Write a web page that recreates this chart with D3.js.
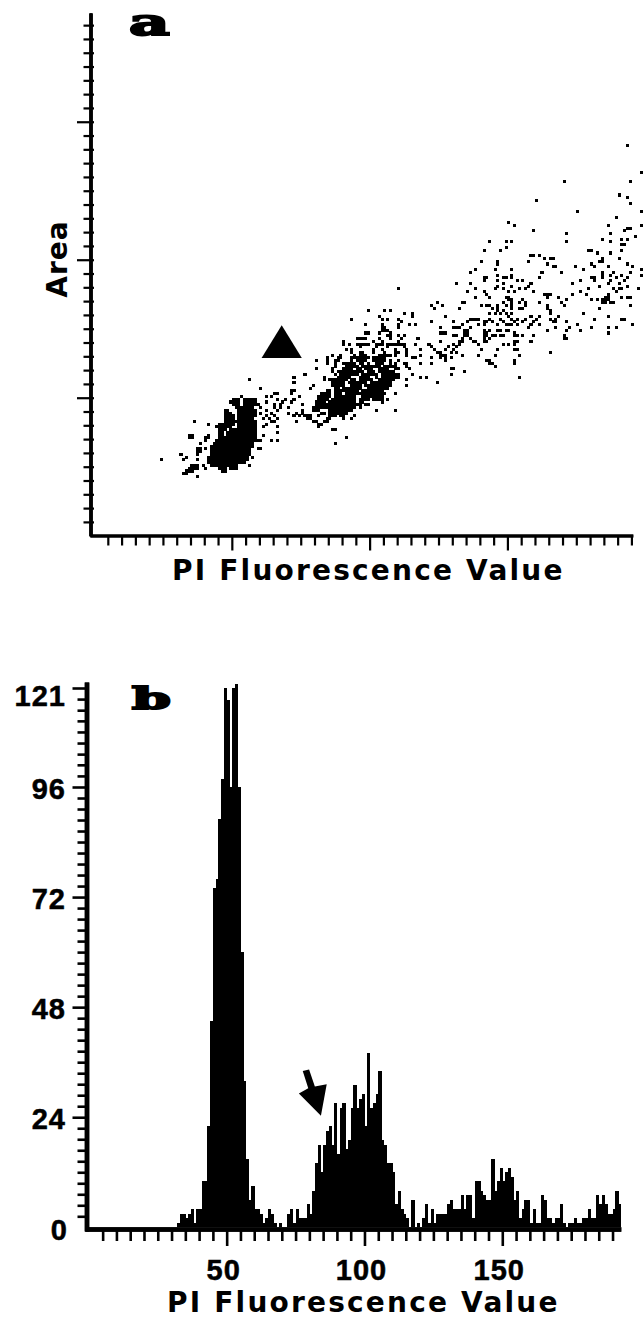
<!DOCTYPE html>
<html>
<head>
<meta charset="utf-8">
<style>
  html, body { margin: 0; padding: 0; background: #fff; }
  svg { display: block; }
  text { fill: #000; }
  .axis path, .axis line { stroke: #000; }
  .label { font-family: 'Liberation Sans', Arial, sans-serif; font-weight: 700; font-size: 29px; stroke: #000; stroke-width: 0.5px; }
  .title { font-family: 'DejaVu Sans', sans-serif; font-weight: 700; font-size: 28px; }
  .panel { font-family: 'DejaVu Serif', serif; font-weight: 700; stroke: #000; stroke-width: 2px; }
</style>
</head>
<body>
<div id="chart"></div>
<script src="https://cdn.jsdelivr.net/npm/d3@7"></script>
<script>
// panel a: sparse dots, one row per Area channel: [area, [PI channels]]
const sparseRows = [
  [142, [193]], [132, [198]], [129, [170, 194]], [124, [190]], [123, [193]], [122, [160]], [121, [194]],
  [118, [175, 198]], [116, [189]], [114, [150]], [113, [152, 186, 198]], [112, [193, 194]],
  [111, [159, 192]], [110, [171, 187]], [109, [196]], [108, [184, 191, 193]],
  [107, [143, 149, 151, 171, 187]], [106, [191, 192]], [105, [149]], [104, [141, 147, 179, 180, 191]],
  [103, [182, 187]], [102, [158, 159, 161]], [101, [163, 165, 166, 184, 190]],
  [100, [140, 146, 157, 183, 184]], [99, [146, 164, 180, 193]],
  [98, [166, 167, 174, 181, 186, 195]], [97, [138, 145, 151, 177, 198]],
  [96, [136, 162, 169, 184, 188, 194]], [95, [146, 151, 184, 187, 191, 198]],
  [94, [141, 142, 148, 149, 151, 161, 180, 181, 184, 189, 193]],
  [93, [141, 146, 153, 155, 176, 181, 187, 192]], [92, [131, 136, 148, 158, 173, 186, 190]],
  [91, [146, 151, 157, 183, 193]], [90, [110, 138, 145, 148, 154, 156, 179, 188, 190, 191, 197]],
  [89, [135, 141, 150, 152, 159, 176, 189]], [88, [142, 163, 164, 165, 173, 178, 186]],
  [87, [138, 143, 149, 150, 164, 168, 185, 186, 191, 193, 194]],
  [86, [150, 151, 155, 171, 180, 182, 184, 185, 186]],
  [85, [124, 133, 134, 148, 151, 154, 156, 161, 169, 184, 185, 187, 188]],
  [84, [122, 126, 140, 142, 143, 146, 149, 151, 156, 164, 170, 194]],
  [83, [123, 132, 144, 146, 151, 154, 155, 164, 183]],
  [82, [146, 148, 165]], [81, [143, 145, 147, 149, 151, 165, 177]],
  [80, [127, 150, 158, 161, 168, 186]],
  [79, [136, 137, 138, 139, 143, 147, 151, 153, 156, 160, 165, 167, 181, 191, 192]],
  [78, [122, 130, 135, 141, 142, 144, 148, 152, 155, 159, 166, 167, 171]],
  [77, [133, 139, 141, 146, 149, 150, 151, 153, 158, 161, 175, 195]],
  [76, [125, 130, 131, 132, 136, 157, 167, 172, 180, 186, 189]],
  [75, [134, 135, 141, 143, 146, 147, 149, 150, 164, 171, 176]],
  [74, [125, 126, 127, 134, 135, 141, 142, 152, 186]],
  [73, [130, 131, 134, 135, 141, 142, 144, 145, 147, 148, 152, 153, 155, 159, 170]],
  [72, [133, 136, 141, 143, 170, 171]],
  [71, [125, 132, 133, 137, 138, 141, 142, 152, 153, 158]],
  [70, [130, 132, 139, 148, 150, 152]],
  [69, [122, 128, 131]], [68, [123, 127, 130, 140, 146, 152, 153]],
  [67, [124, 125, 129, 131, 165]], [66, [125, 126, 127, 133, 139, 145, 154]],
  [65, [122, 125, 127, 129]], [64, [127, 142, 143, 152]],
  [63, [122, 143, 144, 152]], [62, [145]],
  [61, [129, 130]], [60, [134]], [59, [129]],
  [58, [72, 154]], [56, [72, 124]], [53, [72]],
  [50, [69]], [45, [70, 73]],
  [44, [72]], [42, [73]], [36, [91]], [34, [87]],
  // bridge between the first two clusters
  [57, [56]], [54, [60]], [53, [71]], [52, [65, 66, 71]], [51, [62, 64, 74, 53]], [50, [66, 72]],
  [49, [62, 68, 71]], [48, [65, 67, 59]], [47, [60, 65, 67, 70]], [46, [62, 66]], [45, [60, 64]],
  [44, [62, 65, 74]], [43, [63, 66, 61]], [42, [64, 65, 58, 36]], [41, [41, 62]], [40, [61, 66]],
  [38, [66]], [37, [61, 34, 35, 41]], [36, [34, 35, 40, 41]], [35, [40, 59, 60, 64, 66]], [34, [38]],
  [32, [37, 38, 40, 59, 60]], [31, [37, 38]], [30, [31, 37]], [29, [33, 57]], [28, [24, 32, 37]],
  [26, [35, 36, 37, 39, 56]], [25, [34, 35, 36, 37, 40]], [24, [33, 34, 35]], [23, [32, 33]], [22, [37]],
];

// panel a: first dense cluster, filled stretches: [area, from channel, to channel]
const denseRuns = [
  [50, 50, 52], [50, 54, 58], [49, 49, 52], [49, 54, 58], [48, 50, 52], [48, 54, 58], [47, 51, 57],
  [46, 47, 48], [46, 52, 58], [45, 47, 49], [45, 52, 58], [44, 47, 50], [44, 52, 58],
  [43, 47, 50], [43, 52, 57], [42, 47, 57], [41, 45, 50], [41, 52, 58], [40, 44, 49], [40, 52, 58],
  [39, 45, 47], [39, 49, 58], [38, 45, 46], [38, 48, 58], [37, 45, 46], [37, 48, 58],
  [36, 45, 58], [35, 44, 58], [34, 43, 57], [33, 42, 57], [32, 42, 56], [31, 42, 56], [30, 42, 56],
  [29, 41, 55], [28, 41, 55], [27, 41, 54], [26, 42, 51], [25, 45, 47], [25, 49, 51], [24, 46, 47],
];

// panel a: second cluster, single channels or [from, to] stretches per Area channel
const clusterTwo = [
  [82, [99, 105, 107]],
  [81, [112, 115]],
  [80, [103, 115]],
  [79, [93, 104, 106, 110]],
  [78, [111]],
  [77, [98, 104, 110, 114, 116]],
  [76, [104, 105, 110]],
  [75, [[104, 106]]],
  [74, [98, 99, 103, 107]],
  [73, [106, 107, 110, 112]],
  [72, [[95, 98], 103, 107, 111, 117]],
  [71, [90, 101, 104, 110]],
  [70, [90, 92, [95, 99], [102, 104], [106, 109], [110, 112], 116, 121]],
  [69, [96, 102, 106, 112]],
  [68, [91, 93, 101, 104, 109, 113, 118]],
  [67, [93, 96, 97, 101, 105, [109, 110], 113]],
  [66, [86, 89, 94, [96, 98], [103, 107], 109, 113, 118]],
  [65, [84, 88, 89, [93, 99], [101, 105], [115, 116]]],
  [64, [80, 84, [87, 88], 93, [95, 98], [101, 105], 107, 110]],
  [63, [84, 87, [90, 94], [96, 97], 99, [102, 104], 107, 109, 112, 113, 118]],
  [62, [87, [91, 95], [97, 103], [105, 109], 113]],
  [61, [80, 86, [90, 93], [95, 96], [98, 100], [103, 106], [109, 110], 114]],
  [60, [86, [88, 97], [99, 101], [103, 108]]],
  [59, [76, 87, [89, 95], [97, 102], [104, 110], 115]],
  [58, [83, [88, 92], [96, 99], 102, [104, 110], 118, 120]],
  [57, [83, [85, 91], [93, 94], [96, 100], [103, 108], 113]],
  [56, [[86, 90], [92, 95], [96, 98], [100, 107]]],
  [55, [79, [86, 90], [93, 96], [98, 107], 113]],
  [54, [78, [87, 88], [90, 96], [99, 106]]],
  [53, [[84, 85], [87, 95], [97, 104]]],
  [52, [[82, 85], [87, 89], [91, 96], [97, 105], 109]],
  [51, [[81, 85], [87, 94], [97, 104]]],
  [50, [[81, 84], [86, 94], [96, 99], [101, 104], 106]],
  [49, [[80, 83], [85, 94], 96, 97, 104]],
  [48, [75, [80, 83], [84, 95], 96, [98, 99]]],
  [47, [[79, 83], [84, 94], 96]],
  [46, [75, [79, 80], 81, [85, 93], 102, 109]],
  [45, [75, [82, 83], [85, 91]]],
  [44, [[76, 78], 81, [85, 87], [89, 90], 94]],
  [43, [77, 78, 84, 85, 90, 93]],
  [42, [[79, 80], 83, 84]],
  [41, [81, 82]],
  [40, [81]],
  [39, [[86, 87]]],
];

// panel b: histogram counts for PI channels 32 to 192
const histStart = 32;
const histCounts = [
  1, 3, 3, 2, 3, 4, 1, 4, 4, 10, 10, 22, 45, 74, 76, 89, 98, 121, 118, 96, 121, 122, 96, 60, 32, 15, 6, 9,
  4, 4, 3, 1, 2, 4, 3, 1, 0, 1, 0, 0, 3, 4, 1, 4, 2, 2, 2, 5, 3, 8, 14, 18, 12, 18, 21, 22, 18, 27, 16, 26, 27,
  17, 19, 26, 31, 26, 28, 29, 22, 38, 26, 27, 29, 34, 19, 18, 14, 14, 12, 5, 8, 4, 3, 2, 0, 6, 0, 1, 0, 2, 5,
  1, 4, 1, 3, 3, 3, 3, 5, 6, 4, 4, 4, 7, 4, 7, 7, 2, 10, 10, 8, 7, 6, 6, 15, 8, 10, 13, 10, 12, 13, 11, 6, 8,
  2, 4, 6, 6, 1, 4, 1, 1, 7, 6, 2, 2, 1, 2, 2, 5, 1, 0, 1, 1, 2, 1, 1, 2, 2, 4, 2, 2, 7, 5, 7, 5, 3, 3, 4, 8, 5,
];

const xMajor = [50, 100, 150];
const xMinorA = [5, 10, 15, 20, 25, 30, 35, 40, 45, 55, 60, 65, 70, 75, 80, 85, 90, 95, 105, 110, 115, 120, 125, 130, 135, 140, 145, 155, 160, 165, 170, 175, 180, 185, 190, 195];
const xMinorB = xMinorA.slice(0, -1);
const yMajorA = [50, 100, 150];
const yMinorA = [5, 10, 15, 20, 25, 30, 35, 40, 45, 55, 60, 65, 70, 75, 80, 85, 90, 95, 105, 110, 115, 120, 125, 130, 135, 140, 145, 155, 160, 165, 170, 175, 180, 185];
const yMajorB = [24, 48, 72, 96, 121];
const yMinorB = [
  2.4, 4.8, 7.2, 9.6, 12, 14.4, 16.8, 19.2, 21.6, 26.4, 28.8, 31.2, 33.6, 36, 38.4, 40.8, 43.2, 45.6,
  50.4, 52.8, 55.2, 57.6, 60, 62.4, 64.8, 67.2, 69.6, 74.4, 76.8, 79.2, 81.6, 84, 86.4, 88.8, 91.2, 93.6,
  98.8, 101.6, 104.3, 107.1, 109.9, 112.7, 115.4, 118.2,
];
const yLabelsB = [0, 24, 48, 72, 96, 121];

const axisTitle = 'PI Fluorescence Value';

// annotations in channel units
const triangleMark = [[68.1, 76.3], [60.8, 64.4], [75.4, 64.4]];
const arrowMark = [[77.6, 34.1], [79.9, 34.4], [82, 30.7], [86.3, 31.2], [84.2, 24.3], [76.2, 29.2], [79.6, 30.3]];

const width = 643;
const height = 1319;

const svg = d3.select('#chart').append('svg')
  .attr('width', width)
  .attr('height', height)
  .attr('viewBox', `0 0 ${width} ${height}`);

// scales
const xA = d3.scaleLinear().domain([-1.5, 195.5]).range([89.9, 632.8]);
const yA = d3.scaleLinear().domain([0, 189.4]).range([535.7, 13]);
const xB = d3.scaleLinear().domain([-1.4, 193]).range([85, 620.8]);
const yB = d3.scaleLinear().domain([-0.8, 0, 96, 121, 122.5]).range([1231, 1227.3, 787, 688, 682]);

function styleAxis(g, pathWidth, tickWidth) {
  g.attr('class', 'axis');
  g.selectAll('text').remove();
  g.select('path').attr('stroke-width', pathWidth);
  g.selectAll('line').attr('stroke-width', tickWidth);
}

function addAxis(axis, x, y, pathWidth, tickWidth) {
  svg.append('g')
    .attr('transform', `translate(${x},${y})`)
    .call(axis.tickSizeOuter(0).tickFormat(''))
    .call(styleAxis, pathWidth, tickWidth);
}

// panel a axes
addAxis(d3.axisBottom(xA).tickValues(xMinorA).tickSize(10), 0, 535.5, 3, 2.2);
addAxis(d3.axisBottom(xA).tickValues(xMajor).tickSize(15), 0, 535.5, 3, 2.2);
addAxis(d3.axisLeft(yA).tickValues(yMinorA).tickSize(7), 90.5, 0, 3, 2.2);
addAxis(d3.axisRight(yA).tickValues(yMinorA).tickSize(3.5), 90.5, 0, 3, 2.2);
addAxis(d3.axisLeft(yA).tickValues(yMajorA).tickSize(13.5), 90.5, 0, 3, 2.2);
addAxis(d3.axisRight(yA).tickValues(yMajorA).tickSize(3.5), 90.5, 0, 3, 2.2);

// panel a dots
const dotData = [];
sparseRows.forEach(([area, channels]) => {
  channels.forEach((c) => dotData.push([c, area]));
});
denseRuns.forEach(([area, from, to]) => {
  d3.range(from, to + 1).forEach((c) => dotData.push([c, area]));
});
clusterTwo.forEach(([area, items]) => {
  items.forEach((item) => {
    if (Array.isArray(item)) {
      d3.range(item[0], item[1] + 1).forEach((c) => dotData.push([c, area]));
    } else {
      dotData.push([item, area]);
    }
  });
});

const dotW = xA(1) - xA(0) + 0.3;
const dotH = yA(0) - yA(1) + 0.3;

svg.append('g')
  .selectAll('rect')
  .data(dotData)
  .join('rect')
  .attr('x', (d) => xA(d[0]))
  .attr('y', (d) => yA(d[1]))
  .attr('width', dotW)
  .attr('height', dotH)
  .attr('fill', '#000')
  .attr('shape-rendering', 'crispEdges');

const polyLine = d3.line();

svg.append('path')
  .attr('d', `${polyLine(triangleMark.map((d) => [xA(d[0]), yA(d[1])]))}Z`)
  .attr('fill', '#000');

// panel b bars
const binW = xB(1) - xB(0);

svg.append('g')
  .selectAll('rect')
  .data(histCounts)
  .join('rect')
  .attr('x', (d, i) => xB(histStart + i))
  .attr('y', (d) => yB(d))
  .attr('width', binW + 0.5)
  .attr('height', (d) => yB(0) - yB(d))
  .attr('fill', '#000')
  .attr('shape-rendering', 'crispEdges');

svg.append('path')
  .attr('d', `${polyLine(arrowMark.map((d) => [xB(d[0]), yB(d[1])]))}Z`)
  .attr('fill', '#000');

// panel b axes
addAxis(d3.axisBottom(xB).tickValues(xMinorB).tickSize(12), 0, 1229, 4.5, 2.6);
addAxis(d3.axisBottom(xB).tickValues(xMajor).tickSize(17), 0, 1229, 4.5, 2.6);
addAxis(d3.axisLeft(yB).tickValues(yMinorB).tickSize(9), 86.5, 0, 4.5, 2.6);
addAxis(d3.axisLeft(yB).tickValues(yMajorB).tickSize(14), 86.5, 0, 4.5, 2.6);

// texts
svg.selectAll('.ylabel')
  .data(yLabelsB)
  .join('text')
  .attr('class', 'label ylabel')
  .attr('text-anchor', 'end')
  .attr('x', (d) => (d === 0 ? 68 : 66))
  .attr('y', (d) => yB(d) + (d === 121 ? 18 : d === 0 ? 13 : 12))
  .attr('letter-spacing', 1)
  .text((d) => d);

svg.selectAll('.xlabel')
  .data(xMajor)
  .join('text')
  .attr('class', 'label xlabel')
  .attr('text-anchor', 'middle')
  .attr('x', (d) => xB(d) - 3)
  .attr('y', 1280)
  .attr('letter-spacing', 1)
  .text((d) => d);

svg.append('text')
  .attr('class', 'title')
  .attr('x', 172)
  .attr('y', 580)
  .attr('letter-spacing', 2.2)
  .text(axisTitle);

svg.append('text')
  .attr('class', 'title')
  .attr('x', 167)
  .attr('y', 1312)
  .attr('letter-spacing', 2.2)
  .text(axisTitle);

svg.append('text')
  .attr('class', 'title')
  .attr('text-anchor', 'middle')
  .attr('letter-spacing', 1)
  .attr('transform', 'translate(67,259) rotate(-90)')
  .text('Area');

svg.append('text')
  .attr('class', 'panel')
  .attr('font-size', 37)
  .attr('transform', 'translate(129,35) scale(1.7,1)')
  .text('a');

svg.append('text')
  .attr('class', 'panel')
  .attr('font-size', 30)
  .attr('transform', 'translate(132,709) scale(1.85,1)')
  .text('b');
</script>
</body>
</html>
